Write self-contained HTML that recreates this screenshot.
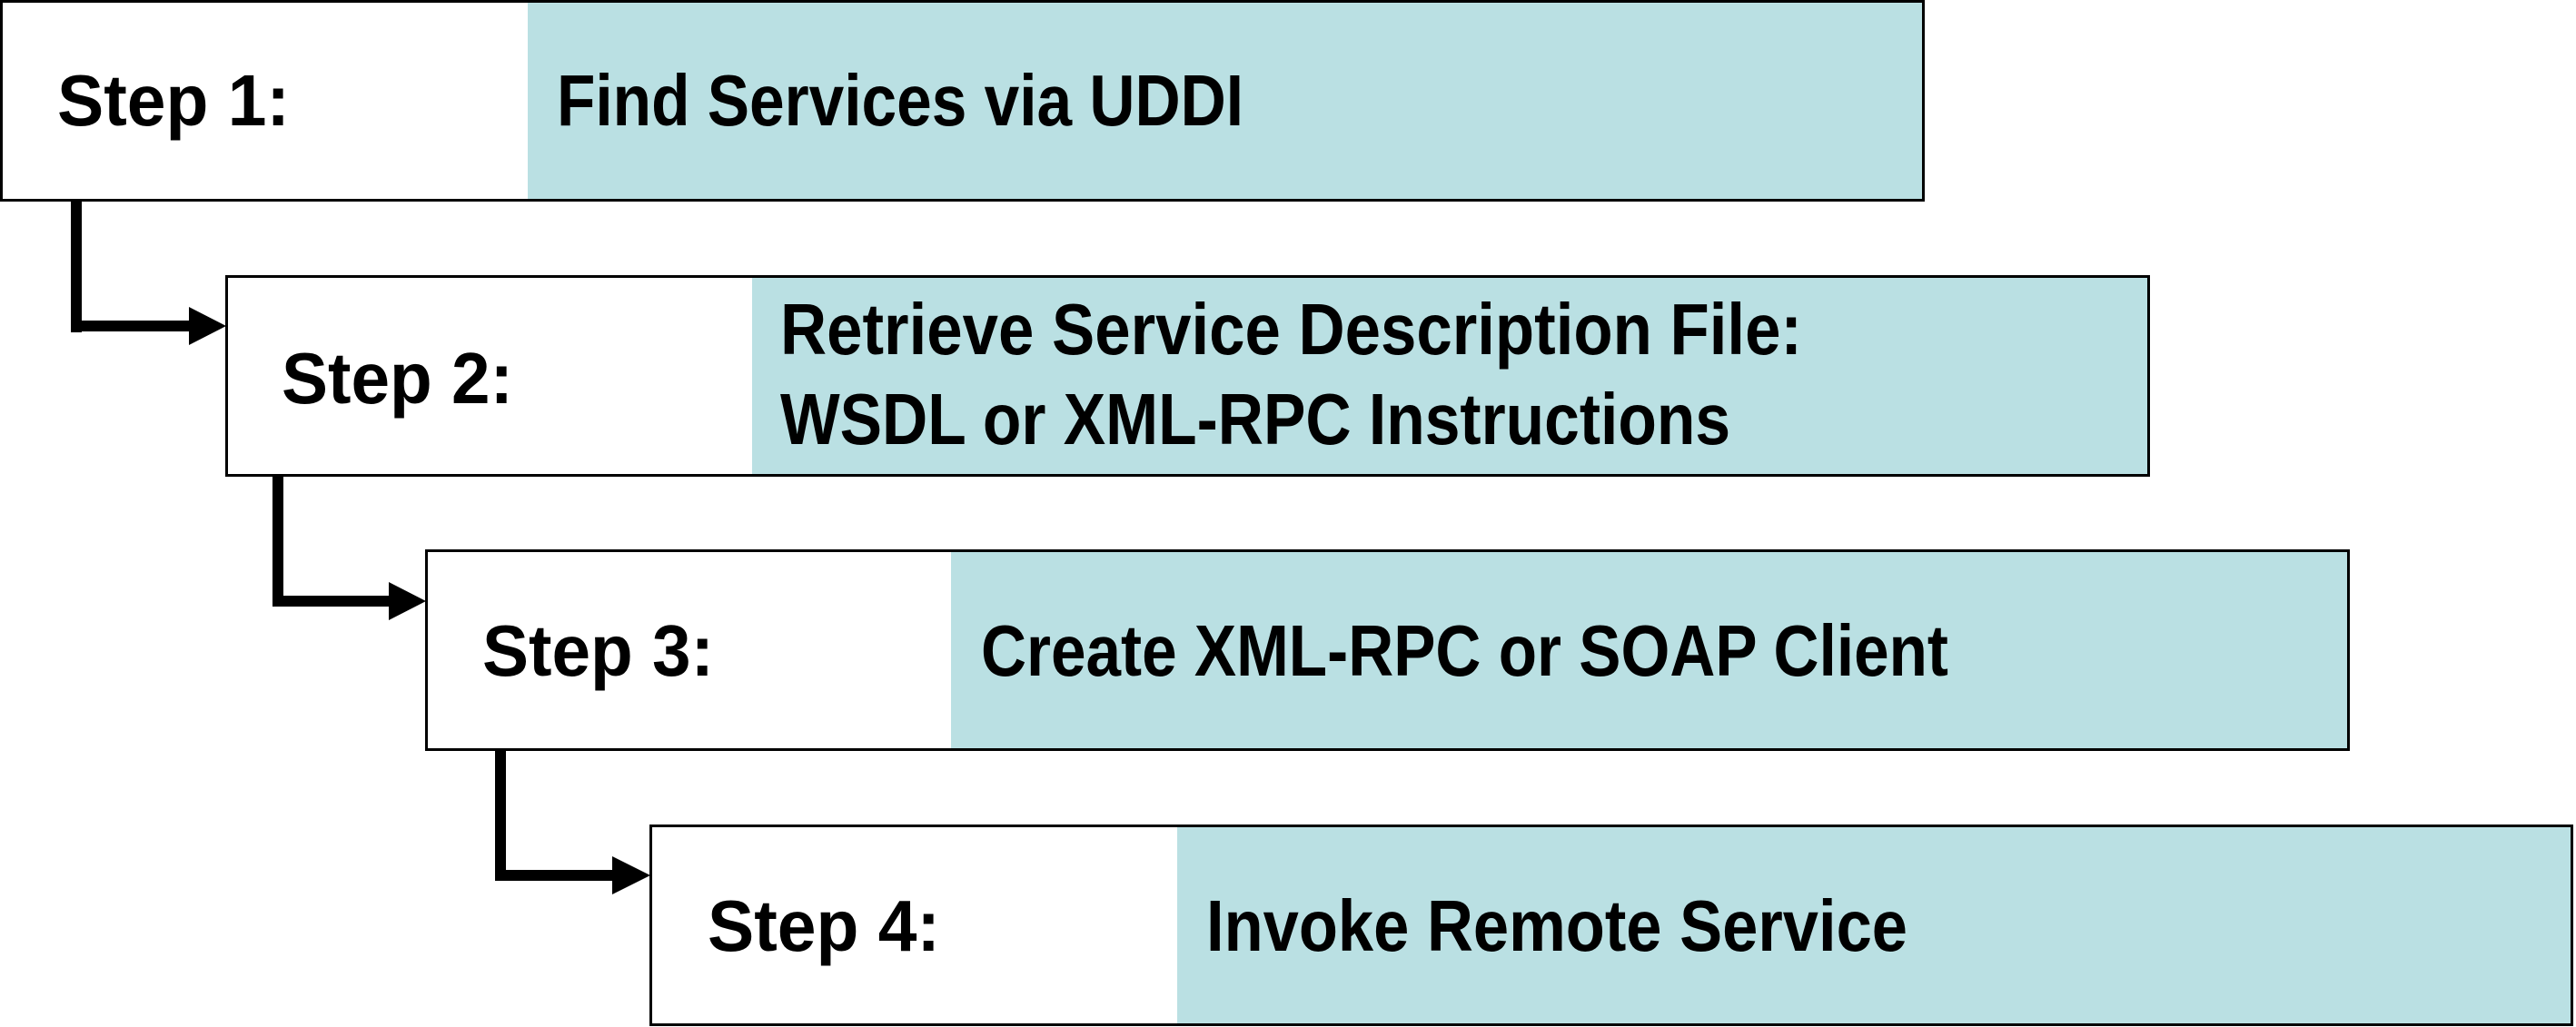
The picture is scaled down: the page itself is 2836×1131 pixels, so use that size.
<!DOCTYPE html>
<html><head><meta charset="utf-8"><style>
html,body{margin:0;padding:0;background:#fff;}
svg{display:block;}
text{font-family:"Liberation Sans",sans-serif;font-weight:bold;font-size:80px;fill:#000;}
</style></head><body>
<svg width="2836" height="1131" viewBox="0 0 2836 1131" xmlns="http://www.w3.org/2000/svg">
<rect x="581" y="2" width="1536" height="218" fill="#bae0e3"/>
<rect x="1.5" y="1.5" width="2116" height="219" fill="none" stroke="#000" stroke-width="3"/>
<text x="63" y="138" textLength="256" lengthAdjust="spacingAndGlyphs">Step 1:</text>
<text x="613" y="138" textLength="756" lengthAdjust="spacingAndGlyphs">Find Services via UDDI</text>
<rect x="828" y="305" width="1537" height="218" fill="#bae0e3"/>
<rect x="249.5" y="304.5" width="2116" height="219" fill="none" stroke="#000" stroke-width="3"/>
<text x="310" y="444" textLength="255" lengthAdjust="spacingAndGlyphs">Step 2:</text>
<text x="859" y="390" textLength="1125" lengthAdjust="spacingAndGlyphs">Retrieve Service Description File:</text>
<text x="859" y="489" textLength="1046" lengthAdjust="spacingAndGlyphs">WSDL or XML-RPC Instructions</text>
<rect x="1047" y="607" width="1538" height="218" fill="#bae0e3"/>
<rect x="469.5" y="606.5" width="2116" height="219" fill="none" stroke="#000" stroke-width="3"/>
<text x="531" y="744" textLength="255" lengthAdjust="spacingAndGlyphs">Step 3:</text>
<text x="1080" y="744" textLength="1065" lengthAdjust="spacingAndGlyphs">Create XML-RPC or SOAP Client</text>
<rect x="1296" y="910" width="1535" height="218" fill="#bae0e3"/>
<rect x="716.5" y="909.5" width="2115" height="219" fill="none" stroke="#000" stroke-width="3"/>
<text x="779" y="1047" textLength="256" lengthAdjust="spacingAndGlyphs">Step 4:</text>
<text x="1328" y="1047" textLength="772" lengthAdjust="spacingAndGlyphs">Invoke Remote Service</text>
<g fill="#000">
<rect x="78" y="221" width="12" height="145"/>
<rect x="78" y="353" width="132" height="12"/>
<polygon points="208,338 249,359 208,380"/>
<rect x="300" y="524" width="12" height="144"/>
<rect x="300" y="656" width="130" height="12"/>
<polygon points="428,641 469,662 428,683"/>
<rect x="545" y="826" width="12" height="144"/>
<rect x="545" y="958" width="131" height="12"/>
<polygon points="674,943 716,964 674,985"/>
</g>
</svg>
</body></html>
